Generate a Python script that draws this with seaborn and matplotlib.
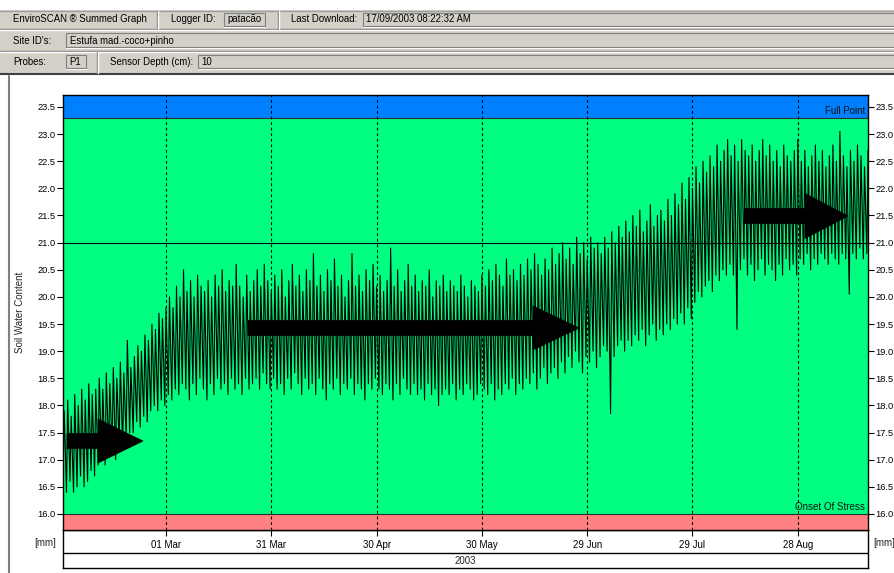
import matplotlib
matplotlib.use("Agg")
import matplotlib.pyplot as plt
import matplotlib.dates as mdates
import matplotlib.transforms as mtransforms
from matplotlib.patches import Rectangle, Polygon
from matplotlib.lines import Line2D
import numpy as np
import pandas as pd
import seaborn as sns

# ---------------- data ----------------
series_start = "2003-01-30 16:00"

daily_high = [
    17.9, 18.1, 17.8, 18.2, 18.0, 18.3, 18.1, 18.4, 18.2, 18.3,
    18.5, 18.3, 18.6, 18.4, 18.7, 18.5, 18.8, 18.6, 19.2, 18.7,
    18.9, 19.1, 19.0, 19.3, 19.2, 19.5, 19.4, 19.7, 19.6, 19.8,
    20.0, 19.8, 20.2, 20.0, 20.5, 20.1, 20.3, 20.0, 20.4, 20.2,
    20.1, 20.3, 20.0, 20.4, 20.2, 20.5, 20.1, 20.3, 20.2, 20.6,
    20.2, 20.0, 20.4, 20.1, 20.3, 20.5, 20.2, 20.6, 20.3, 20.1,
    20.4, 20.2, 20.5, 20.0, 20.3, 20.6, 20.2, 20.4, 20.1, 20.5,
    20.3, 20.8, 20.2, 20.4, 20.1, 20.5, 20.3, 20.7, 20.2, 20.4,
    20.0, 20.3, 20.8, 20.2, 20.4, 20.1, 20.5, 20.3, 20.6, 20.2,
    20.4, 20.1, 20.3, 20.9, 20.2, 20.5, 20.1, 20.3, 20.6, 20.2,
    20.4, 20.1, 20.3, 20.2, 20.5, 20.0, 20.3, 20.2, 20.4, 20.1,
    20.3, 20.2, 20.1, 20.4, 20.2, 20.0, 20.3, 20.2, 20.1, 20.4,
    20.2, 20.5, 20.3, 20.6, 20.4, 20.2, 20.7, 20.4, 20.5, 20.3,
    20.6, 20.4, 20.7, 20.5, 20.8, 20.6, 20.4, 20.7, 20.5, 20.9,
    20.6, 20.8, 21.0, 20.7, 20.9, 20.6, 21.1, 20.8, 21.0, 20.7,
    21.1, 20.9, 21.0, 20.8, 21.1, 20.9, 21.2, 21.0, 21.3, 21.1,
    21.4, 21.2, 21.5, 21.3, 21.6, 21.2, 21.4, 21.7, 21.3, 21.5,
    21.6, 21.4, 21.8, 21.5, 21.9, 21.7, 22.1, 21.8, 22.2, 22.0,
    22.4, 22.1, 22.5, 22.3, 22.6, 22.4, 22.8, 22.5, 22.7, 22.9,
    22.6, 22.8, 22.5, 22.9, 22.7, 22.6, 22.8, 22.5, 22.7, 22.9,
    22.6, 22.8, 22.5, 22.7, 22.4, 22.8, 22.6, 22.5, 22.7, 22.9,
    22.5, 22.7, 22.4, 22.6, 22.8, 22.5, 22.7, 22.4, 22.6, 22.8,
    22.5, 23.05, 22.6, 22.4, 22.7, 22.5, 22.8, 22.6, 22.4, 22.7,
]

daily_low = [
    16.5, 16.4, 16.6, 16.4, 16.5, 16.7, 16.5, 16.6, 16.8, 16.7,
    16.9, 17.0, 16.9, 17.1, 17.2, 17.0, 17.3, 17.2, 17.4, 17.5,
    17.5, 17.7, 17.6, 17.8, 17.7, 17.9, 18.0, 17.9, 18.1, 18.0,
    18.2, 18.1, 18.3, 18.2, 18.4, 18.3, 18.1, 18.4, 18.2, 18.5,
    18.3, 18.1, 18.4, 18.2, 18.5, 18.3, 18.4, 18.2, 18.5, 18.3,
    18.4, 18.2, 18.5, 18.3, 18.4, 18.5, 18.3, 18.6, 18.4, 18.3,
    18.5, 18.3, 18.4, 18.2, 18.5, 18.3, 18.6, 18.4, 18.2, 18.5,
    18.3, 18.4, 18.2, 18.5, 18.3, 18.1, 18.4, 18.3, 18.5, 18.2,
    18.4, 18.3, 18.5, 18.2, 18.4, 18.3, 18.1, 18.4, 18.3, 18.5,
    18.3, 18.2, 18.4, 18.3, 18.1, 18.4, 18.2, 18.5, 18.3, 18.2,
    18.4, 18.2, 18.3, 18.1, 18.4, 18.2, 18.3, 18.0, 18.2, 18.3,
    18.2, 18.4, 18.1, 18.3, 18.2, 18.4, 18.3, 18.1, 18.2, 18.4,
    18.3, 18.2, 18.4, 18.1, 18.3, 18.2, 18.4, 18.3, 18.5, 18.2,
    18.4, 18.3, 18.5, 18.4, 18.6, 18.3, 18.5, 18.7, 18.4, 18.6,
    18.7, 18.5, 18.8, 18.6, 18.9, 18.7, 19.0, 18.8, 18.6, 18.9,
    18.8, 19.0, 18.7, 18.9, 19.1, 19.0, 17.85, 18.9, 19.1, 19.2,
    19.0, 19.2, 19.1, 19.3, 19.2, 19.4, 19.1, 19.3, 19.5, 19.2,
    19.4, 19.3, 19.5, 19.4, 19.6, 19.5, 19.7, 19.5, 19.8, 19.6,
    19.9, 20.1, 20.0, 20.2, 20.3, 20.1, 20.4, 20.3, 20.5, 20.4,
    20.6, 20.4, 19.4, 20.5, 20.7, 20.4, 20.6, 20.3, 20.5, 20.7,
    20.4, 20.6, 20.5, 20.3, 20.6, 20.4, 20.7, 20.5, 20.6, 20.4,
    20.7, 20.6, 20.8, 20.5, 20.7, 20.6, 20.8, 20.7, 20.6, 20.8,
    20.7, 20.6, 20.8, 20.7, 20.05, 20.8, 20.7, 20.9, 20.7, 20.8,
]

tick_dates = ["2003-03-01", "2003-03-31", "2003-04-30", "2003-05-30",
              "2003-06-29", "2003-07-29", "2003-08-28"]
y_ticks = [16.0, 16.5, 17.0, 17.5, 18.0, 18.5, 19.0, 19.5,
           20.0, 20.5, 21.0, 21.5, 22.0, 22.5, 23.0, 23.5]
x_range = ["2003-01-30 16:00", "2003-09-17 00:00"]
y_range = (15.705, 23.72)
full_point = 23.3
onset_of_stress = 16.0
refill_line = 21.0
year_label = "2003"

header_logger = "patacão"
header_download = "17/09/2003 08:22:32 AM"
header_site = "Estufa mad.-coco+pinho"
header_probe = "P1"
header_depth = "10"

# ---------------- style ----------------
sns.set_theme(style="white")
plt.rcParams["font.family"] = ["Liberation Sans", "DejaVu Sans"]

W, H = 895, 573
GREEN = "#00FF80"
BLUE = "#0080FF"
PINK = "#FF8080"
GRAY = "#D4D0C8"

fig = plt.figure(figsize=(W / 100, H / 100), dpi=100)
fig.patch.set_facecolor("white")


def fx(px):
    return px / W


def fy(py):
    return 1 - py / H


# ---------------- header ----------------
fig.patches.append(Rectangle((0, fy(74)), 1, fy(10) - fy(74), transform=fig.transFigure,
                             facecolor=GRAY, edgecolor="none", zorder=0))


def hline(y, x0=0, x1=W, color="#808080", lw=1.0):
    fig.lines.append(Line2D([fx(x0), fx(x1)], [fy(y), fy(y)], transform=fig.transFigure,
                            color=color, lw=lw, zorder=1))


def vline(x, y0, y1, color="#808080", lw=1.0):
    fig.lines.append(Line2D([fx(x), fx(x)], [fy(y0), fy(y1)], transform=fig.transFigure,
                            color=color, lw=lw, zorder=1))


def box(x0, y0, x1, y1):
    fig.patches.append(Rectangle((fx(x0), fy(y1)), fx(x1) - fx(x0), fy(y0) - fy(y1),
                                 transform=fig.transFigure, facecolor=GRAY,
                                 edgecolor="#808080", lw=0.8, zorder=1))
    hline(y1 + 0.8, x0, x1, color="white", lw=0.8)


hline(10.5, color="#A0A0A0")
hline(29, color="#808080"); hline(30, color="white")
hline(51, color="#808080"); hline(52, color="white")
hline(73.5, color="#404040", lw=1.5)
vline(157, 11, 29); vline(158, 11, 29, color="white")
vline(278, 11, 29); vline(279, 11, 29, color="white")
vline(97, 52, 73); vline(98, 52, 73, color="white")

box(224, 13, 265, 26)
box(363, 13, 896, 26)
box(66, 33, 896, 47)
box(66, 55, 86, 68)
box(198, 55, 896, 68)

hs = 6.9
def htext(x, y, s):
    fig.text(fx(x), fy(y), s, fontsize=hs, ha="left", va="center", color="black")

htext(13, 19.5, "EnviroSCAN ® Summed Graph")
htext(171, 19.5, "Logger ID:")
htext(227, 19.5, header_logger)
htext(291, 19.5, "Last Download:")
htext(366, 19.5, header_download)
htext(13, 40.5, "Site ID's:")
htext(70, 40.5, header_site)
htext(13, 62, "Probes:")
htext(69, 62, header_probe)
htext(110, 62, "Sensor Depth (cm):")
htext(201, 62, header_depth)

# frame of the graph area
vline(9.5, 76, H, color="#808080", lw=1.5)

# ---------------- axes ----------------
ax = fig.add_axes([fx(63), fy(530), fx(868) - fx(63), fy(95) - fy(530)])
axb = fig.add_axes([fx(63), fy(568), fx(868) - fx(63), fy(530) - fy(568)])
ax.set_zorder(3)
axb.set_zorder(1)

axb.set_facecolor("white")
axb.set_xticks([]); axb.set_yticks([])
for s in axb.spines.values():
    s.set_color("black"); s.set_linewidth(1.0)
axb.axhline((568 - 553) / (568 - 530), color="black", lw=1.0)
axb.text(0.5, (568 - 561) / (568 - 530), year_label, ha="center", va="center",
         fontsize=7, transform=axb.transAxes)

# series
t0 = pd.Timestamp(series_start)
n = len(daily_high)
day_idx = np.arange(n)
t_low = t0 + pd.to_timedelta(day_idx, unit="D")
t_high = t_low + pd.Timedelta(hours=8)
times = np.empty(2 * n, dtype="datetime64[ns]")
vals = np.empty(2 * n)
times[0::2] = t_low.values
times[1::2] = t_high.values
vals[0::2] = daily_low
vals[1::2] = daily_high
df = pd.DataFrame({"time": times, "swc": vals})

ax.set_facecolor(GREEN)
ax.axhspan(full_point, y_range[1], color=BLUE, zorder=1, lw=0)
ax.axhspan(y_range[0], onset_of_stress, color=PINK, zorder=1, lw=0)
ax.axhline(full_point, color="#303030", lw=0.8, zorder=2)
ax.axhline(onset_of_stress, color="#303030", lw=0.8, zorder=2)
ax.axhline(refill_line, color="black", lw=0.8, zorder=5)

tick_ts = pd.to_datetime(tick_dates)
for t in tick_ts:
    ax.axvline(t, color="black", lw=0.8, ls=(0, (2.5, 2.5)), zorder=2)

sns.lineplot(data=df, x="time", y="swc", ax=ax, color="black", linewidth=0.8,
             estimator=None, sort=False, zorder=4)

ax.set_xlim(pd.Timestamp(x_range[0]), pd.Timestamp(x_range[1]))
ax.set_ylim(*y_range)
ax.set_xlabel("")
ax.set_ylabel("")
ax.set_xticks(tick_ts)
ax.xaxis.set_major_formatter(mdates.DateFormatter("%d %b"))
ax.set_yticks(y_ticks)
ax.set_yticklabels([f"{v:.1f}" for v in y_ticks])
ax.tick_params(axis="x", bottom=True, direction="out", length=4.5, width=0.8,
               labelsize=7, pad=2.5, colors="black")
ax.tick_params(axis="y", left=True, right=True, labelleft=True, labelright=True,
               direction="out", length=4.0, width=0.8, labelsize=6.7, pad=1.5, colors="black")
for s in ax.spines.values():
    s.set_color("black"); s.set_linewidth(1.0)
ax.grid(False)

ytrans = mtransforms.blended_transform_factory(ax.transAxes, ax.transData)
ax.text(0.996, full_point + 0.03, "Full Point", transform=ytrans, ha="right", va="bottom",
        fontsize=7, color="#101010", zorder=6)
ax.text(0.996, onset_of_stress + 0.03, "Onset Of Stress", transform=ytrans, ha="right",
        va="bottom", fontsize=7, color="#101010", zorder=6)

fig.text(fx(20), fy(312), "Soil Water Content", rotation=90, ha="center", va="center",
         fontsize=7)
fig.text(fx(45), fy(543), "[mm]", ha="center", va="center", fontsize=7)
fig.text(fx(884), fy(543), "[mm]", ha="center", va="center", fontsize=7)


# ---------------- annotation arrows ----------------
def arrow(x0, x1, yc, shaft_h, head_h, head_len):
    xb = x1 - head_len
    pts = [(x0, yc - shaft_h / 2), (xb, yc - shaft_h / 2), (xb, yc - head_h / 2),
           (x1, yc), (xb, yc + head_h / 2), (xb, yc + shaft_h / 2), (x0, yc + shaft_h / 2)]
    pts = [(fx(a), fy(b)) for a, b in pts]
    ax.add_patch(Polygon(pts, closed=True, transform=fig.transFigure, facecolor="black",
                         edgecolor="black", lw=0.5, zorder=10, clip_on=False))


arrow(67, 143, 441, 15, 44, 45)
arrow(248, 579, 328, 15, 44, 46)
arrow(745, 848, 216, 15, 45, 43)

fig.savefig("out.png", dpi=100, facecolor="white")
